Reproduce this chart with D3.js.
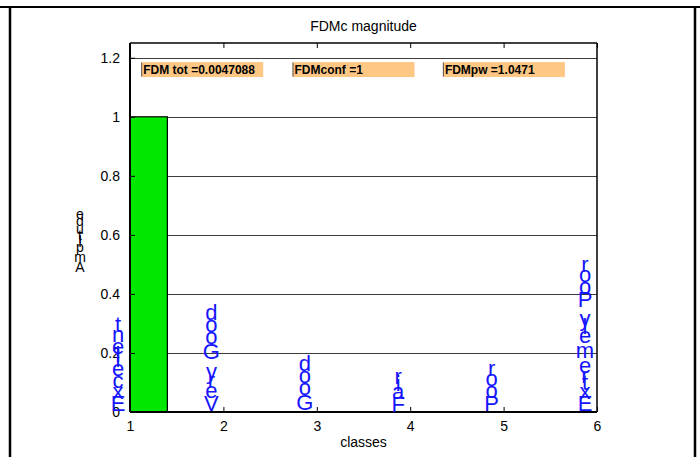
<!DOCTYPE html>
<html>
<head>
<meta charset="utf-8">
<script src="https://cdn.jsdelivr.net/npm/d3@7"></script>
<style>
  html, body { margin: 0; padding: 0; background: #fff; }
  svg { display: block; }
  text { font-family: "Liberation Sans", Arial, sans-serif; }
</style>
</head>
<body>
<svg id="chart" width="700" height="457"></svg>
<script>
// ---- data ----
const classes = [1, 2, 3, 4, 5, 6];
const categories = ["Excellent", "Very Good", "Good", "Fair", "Poor", "Extremely Poor"];
const magnitude = [1, 0, 0, 0, 0, 0];
const yTicks = [0, 0.2, 0.4, 0.6, 0.8, 1, 1.2];
const xTicks = [1, 2, 3, 4, 5, 6];
const noteTexts = ["FDM tot =0.0047088", "FDMconf =1", "FDMpw =1.0471"];
const noteX = [1.12, 2.74, 4.35];
const noteY = 1.16;

// ---- layout ----
const W = 700, H = 457;
const plot = { left: 130, right: 597, top: 43, bottom: 412 };
const barWidth = 0.8;

const svg = d3.select("#chart");

const x = d3.scaleLinear().domain([1, 6]).range([plot.left, plot.right]);
const y = d3.scaleLinear().domain([0, 1.25]).range([plot.bottom, plot.top]);

// figure frame
const frame = svg.append("g").attr("stroke", "#000").attr("fill", "none");
frame.append("line").attr("x1", 0).attr("x2", W).attr("y1", 7).attr("y2", 7).attr("stroke-width", 2);
frame.append("line").attr("x1", 10).attr("x2", 10).attr("y1", 7).attr("y2", H).attr("stroke-width", 2.5);
frame.append("line").attr("x1", 695).attr("x2", 695).attr("y1", 7).attr("y2", H).attr("stroke-width", 2.5);

// clip to axes box
svg.append("clipPath").attr("id", "plotclip")
  .append("rect")
  .attr("x", plot.left).attr("y", plot.top)
  .attr("width", plot.right - plot.left).attr("height", plot.bottom - plot.top);

// horizontal grid lines
svg.append("g")
  .selectAll("line")
  .data(yTicks.filter(d => d > 0))
  .join("line")
  .attr("x1", plot.left).attr("x2", plot.right)
  .attr("y1", d => Math.round(y(d)) + 0.5).attr("y2", d => Math.round(y(d)) + 0.5)
  .attr("stroke", "#3c3c3c").attr("stroke-width", 1);

// bars
svg.append("g").attr("clip-path", "url(#plotclip)")
  .selectAll("rect")
  .data(classes.map((c, i) => ({ c, v: magnitude[i] })))
  .join("rect")
  .attr("x", d => x(d.c - barWidth / 2))
  .attr("width", d => x(d.c + barWidth / 2) - x(d.c - barWidth / 2))
  .attr("y", d => y(d.v))
  .attr("height", d => y(0) - y(d.v))
  .attr("fill", "#00e800")
  .attr("stroke", "#000").attr("stroke-width", 1.2);

// annotation boxes
const notes = svg.append("g");
noteTexts.forEach((t, i) => {
  const bx = x(noteX[i]), by = y(noteY);
  notes.append("rect")
    .attr("x", bx).attr("y", by - 7.5)
    .attr("width", 122).attr("height", 15)
    .attr("fill", "#fec884");
  notes.append("line")
    .attr("x1", bx + 0.5).attr("x2", bx + 0.5)
    .attr("y1", by - 7).attr("y2", by + 7)
    .attr("stroke", "#555").attr("stroke-width", 1);
  notes.append("text")
    .attr("x", bx + 2).attr("y", by + 4.5)
    .attr("font-size", 12).attr("font-weight", "bold")
    .attr("fill", "#000")
    .text(t);
});

// axes box and ticks
const axesG = svg.append("g").attr("stroke", "#000").attr("fill", "none");
axesG.append("line").attr("x1", plot.left).attr("x2", plot.right).attr("y1", plot.bottom).attr("y2", plot.bottom).attr("stroke-width", 2);
axesG.append("line").attr("x1", plot.left).attr("x2", plot.right).attr("y1", plot.top).attr("y2", plot.top).attr("stroke-width", 1.5);
axesG.append("line").attr("x1", plot.left).attr("x2", plot.left).attr("y1", plot.top).attr("y2", plot.bottom).attr("stroke-width", 2);
axesG.append("line").attr("x1", plot.right).attr("x2", plot.right).attr("y1", plot.top).attr("y2", plot.bottom).attr("stroke-width", 1.5);

// x axis (ticks inward, labels below)
const xAxis = d3.axisBottom(x).tickValues(xTicks).tickFormat(d3.format("d")).tickSizeInner(-5).tickSizeOuter(0).tickPadding(9);
const gx = svg.append("g").attr("transform", `translate(0,${plot.bottom})`).call(xAxis);
gx.select(".domain").remove();
gx.selectAll("text").attr("font-size", 14).attr("fill", "#000").attr("font-family", "Liberation Sans, Arial, sans-serif");
gx.selectAll("line").attr("stroke", "#000");

const xTop = d3.axisTop(x).tickValues(xTicks).tickFormat("").tickSizeInner(-5).tickSizeOuter(0);
const gxt = svg.append("g").attr("transform", `translate(0,${plot.top})`).call(xTop);
gxt.select(".domain").remove();
gxt.selectAll("line").attr("stroke", "#000");

// y axis
const yAxis = d3.axisLeft(y).tickValues(yTicks).tickFormat(d => d3.format("~g")(d)).tickSizeInner(-5).tickSizeOuter(0).tickPadding(10);
const gy = svg.append("g").attr("transform", `translate(${plot.left},0)`).call(yAxis);
gy.select(".domain").remove();
gy.selectAll("text").attr("font-size", 14).attr("fill", "#000").attr("font-family", "Liberation Sans, Arial, sans-serif");
gy.selectAll("line").attr("stroke", "#000");

// title and x label
svg.append("text")
  .attr("x", (plot.left + plot.right) / 2).attr("y", 31)
  .attr("text-anchor", "middle").attr("font-size", 14).attr("fill", "#000")
  .text("FDMc magnitude");
svg.append("text")
  .attr("x", (plot.left + plot.right) / 2).attr("y", 447)
  .attr("text-anchor", "middle").attr("font-size", 14).attr("fill", "#000")
  .text("classes");

// upright glyphs stacked bottom-to-top along each glyph's advance
const measureCtx = document.createElement("canvas").getContext("2d");
function stackedText(g, str, cx, bottom, fs, color) {
  measureCtx.font = `${fs}px "Liberation Sans", Arial, sans-serif`;
  let pos = bottom;
  Array.from(str).forEach(ch => {
    const adv = measureCtx.measureText(ch).width;
    const center = pos - adv / 2;
    if (ch !== " ") {
      g.append("text")
        .attr("x", cx).attr("y", center + 0.35 * fs)
        .attr("text-anchor", "middle")
        .attr("font-size", fs).attr("fill", color)
        .text(ch);
    }
    pos -= adv;
  });
}

// category labels at each class
const labelG = svg.append("g");
categories.forEach((c, i) => {
  stackedText(labelG, c, x(classes[i]) - 12, y(0) - 1, 22, "#1414ff");
});

// y label
stackedText(svg.append("g"), "Amplitude", 80, 272, 14, "#000");
</script>
</body>
</html>
